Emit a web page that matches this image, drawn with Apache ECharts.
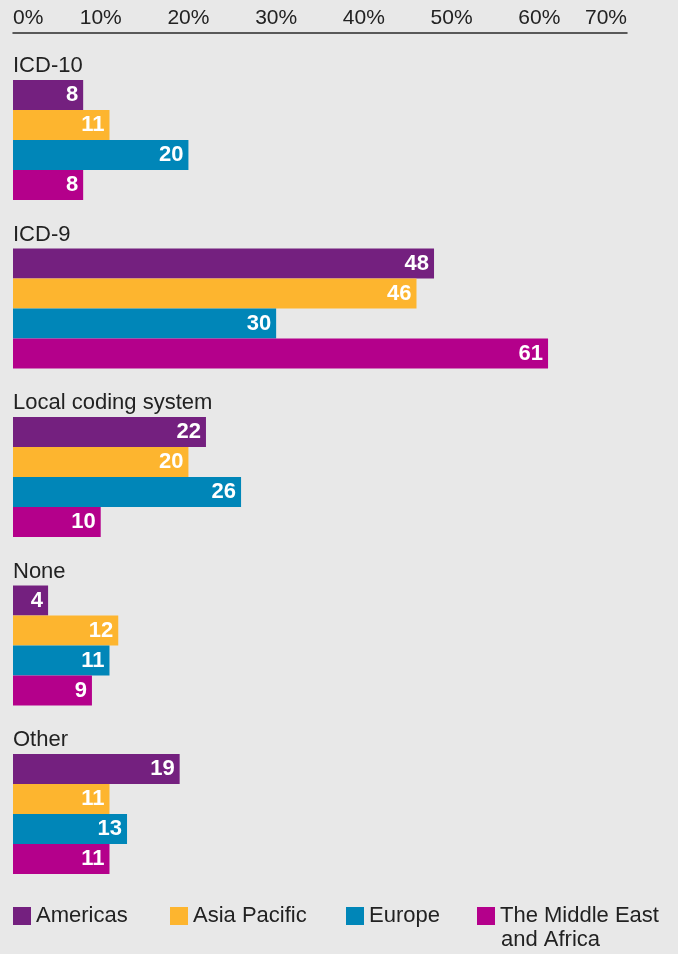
<!DOCTYPE html>
<html>
<head>
<meta charset="utf-8">
<script src="https://cdn.jsdelivr.net/npm/echarts@6/dist/echarts.min.js"></script>
<style>
html,body{margin:0;padding:0;background:#e8e8e8;}
#chart{width:678px;height:954px;}
</style>
</head>
<body>
<div id="chart"></div>
<script>
const categories = ['ICD-10', 'ICD-9', 'Local coding system', 'None', 'Other'];
const seriesNames = ['Americas', 'Asia Pacific', 'Europe', 'The Middle East and Africa'];
const legendLabels = ['Americas', 'Asia Pacific', 'Europe', 'The Middle East'];
const legendSecondLine = 'and Africa';
const americas = [8, 48, 22, 4, 19];
const asiaPacific = [11, 46, 20, 12, 11];
const europe = [20, 30, 26, 11, 13];
const middleEastAfrica = [8, 61, 10, 9, 11];
const colors = ['#74207f', '#fdb52f', '#0086b8', '#b4008b'];
const FONT = '"Liberation Sans", Arial, Helvetica, sans-serif';

const chart = echarts.init(document.getElementById('chart'));
const values = [americas, asiaPacific, europe, middleEastAfrica];
const legendLeft = [13, 170, 346, 477];

const series = seriesNames.map((name, i) => ({
  name: name,
  type: 'bar',
  data: values[i],
  barWidth: 30,
  barGap: '0%',
  itemStyle: { color: colors[i] },
  label: {
    show: true,
    position: 'insideRight',
    distance: 5,
    color: '#ffffff',
    fontWeight: 'bold',
    fontSize: 22,
    fontFamily: FONT
  },
  emphasis: { disabled: true }
}));

const legends = seriesNames.map((name, i) => ({
  data: [name],
  left: legendLeft[i],
  top: 905,
  padding: 0,
  icon: 'rect',
  itemWidth: 18,
  itemHeight: 18,
  selectedMode: false,
  formatter: () => legendLabels[i],
  textStyle: { fontSize: 22, color: '#222', fontFamily: FONT }
}));

chart.setOption({
  backgroundColor: '#e8e8e8',
  animation: false,
  grid: { left: 13, right: 51, top: 55.75, bottom: 55.75 },
  xAxis: {
    type: 'value',
    position: 'top',
    offset: 22.75,
    min: 0,
    max: 70,
    interval: 10,
    axisLine: { show: true, lineStyle: { color: '#2a2a2a', width: 1.5 } },
    axisTick: { show: false },
    splitLine: { show: false },
    axisLabel: {
      formatter: '{value}%',
      fontSize: 21,
      color: '#222',
      fontFamily: FONT,
      margin: 4,
      alignMinLabel: 'left',
      alignMaxLabel: 'right'
    }
  },
  yAxis: {
    type: 'category',
    data: categories,
    inverse: true,
    axisLine: { show: false },
    axisTick: { show: false },
    axisLabel: {
      inside: true,
      margin: 0,
      fontSize: 22,
      color: '#222',
      fontFamily: FONT,
      verticalAlign: 'bottom',
      padding: [0, 0, 63, 0]
    }
  },
  legend: legends,
  graphic: [{
    type: 'text',
    left: 501,
    top: 929,
    style: { text: legendSecondLine, fontSize: 22, fill: '#222', fontFamily: FONT }
  }],
  series: series
});
</script>
</body>
</html>
